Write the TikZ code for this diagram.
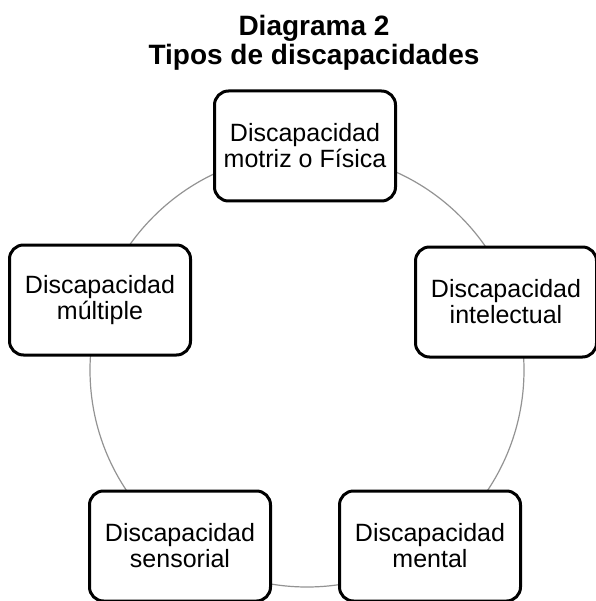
\documentclass[tikz,border=0pt]{standalone}
\usepackage{fontspec}
\setmainfont{Liberation Sans}
\usetikzlibrary{calc}
\tikzset{
    my-type-box/.style={
        draw, fill=white, line width=3pt, rounded corners=14pt, align=center,
        minimum width=181pt, minimum height=110pt, inner sep=2pt,
        font=\fontsize{25}{26}\selectfont
    },
    my-ring/.style={
        draw=gray!85, circle, line width=1.2pt, minimum size=434pt, inner sep=0pt
    },
    my-title/.style={
        align=center, inner sep=0pt, font=\fontsize{28}{29}\selectfont\bfseries
    },
}
\begin{document}
\begin{tikzpicture}[x=1pt, y=-1pt]

        \useasboundingbox (0, 0) rectangle (595, 601);

        % TITLE ---------------------------------------------------------------------------------------
        \node[my-title, anchor=north] (TITLE) at (314, 15) {Diagrama 2\\Tipos de discapacidades};

        % RING ----------------------------------------------------------------------------------------
        \coordinate[] (CENTER) at (307, 370);
        \node[my-ring] (RING) at (CENTER) {};

        % TYPES OF DISABILITY -------------------------------------------------------------------------
        \node[my-type-box] (MOTRIZ)     at ($(CENTER) + (-2, -224)$)  {Discapacidad\\motriz o Física};
        \node[my-type-box] (INTELECTUAL) at ($(CENTER) + (199, -68)$) {Discapacidad\\intelectual};
        \node[my-type-box] (MENTAL)     at ($(CENTER) + (123, 176)$)  {Discapacidad\\mental};
        \node[my-type-box] (SENSORIAL)  at ($(CENTER) + (-127, 176)$) {Discapacidad\\sensorial};
        \node[my-type-box] (MULTIPLE)   at ($(CENTER) + (-207, -70)$) {Discapacidad\\múltiple};

    \end{tikzpicture}
\end{document}
